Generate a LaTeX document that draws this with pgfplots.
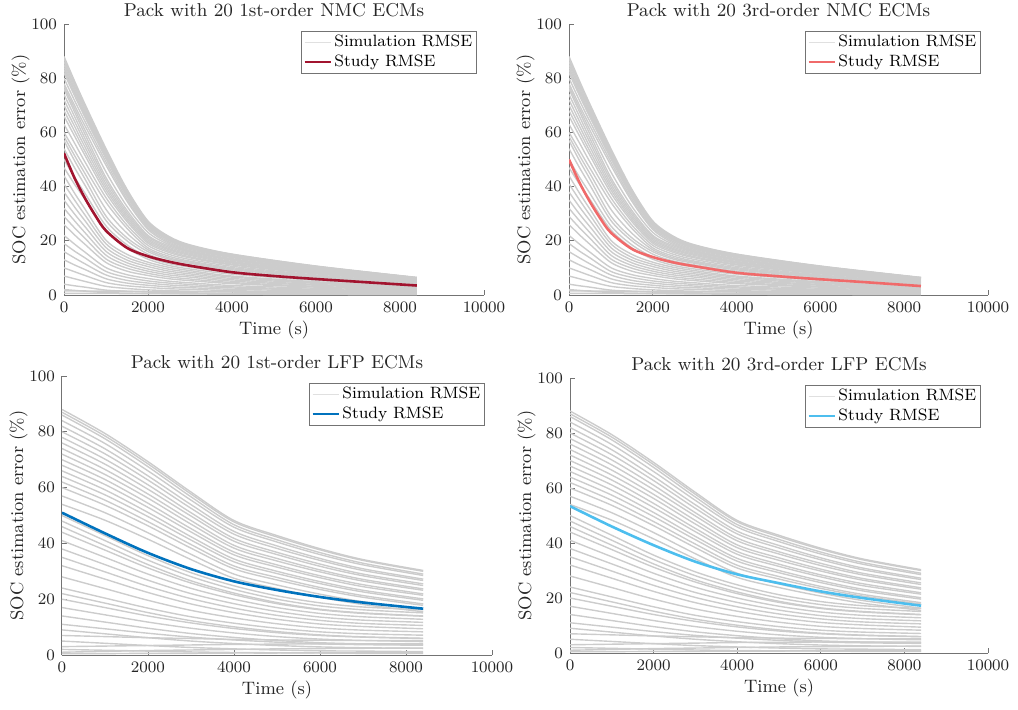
\documentclass[border=0pt]{standalone}
\usepackage{pgfplots}
\usepackage{pgfplotstable}
\pgfplotsset{compat=1.18}

\definecolor{simgray}{gray}{0.8}
\definecolor{axgray}{gray}{0.45}
\definecolor{nmcone}{HTML}{A2142F}
\definecolor{nmcthree}{HTML}{F06A6A}
\definecolor{lfpone}{HTML}{0072BD}
\definecolor{lfpthree}{HTML}{4DBEEE}

% gray simulation runs, one row per run (columns = time in s)
\pgfplotstableread{
c 0 250 500 1000 1500 2000 2500 3000 4000 6000 8400
a1 88 79.0 70.4 54.0 39.0 27.3 21.6 18.5 15.1 10.7 6.5
a2 87 78.1 69.6 53.4 38.5 27.0 21.3 18.3 15.0 10.6 6.4
a3 86 77.2 68.8 52.8 38.1 26.7 21.1 18.1 14.8 10.5 6.4
a4 85 76.3 68.0 52.2 37.7 26.4 20.8 17.9 14.6 10.4 6.3
a5 84 75.4 67.2 51.6 37.2 26.0 20.6 17.6 14.4 10.2 6.2
a6 83 74.5 66.4 51.0 36.8 25.7 20.3 17.4 14.3 10.1 6.1
a7 82 73.6 65.6 50.3 36.3 25.4 20.1 17.2 14.1 10.0 6.1
a8 80 71.8 64.0 49.1 35.4 24.8 19.6 16.8 13.8 9.8 5.9
a9 78 70.0 62.4 47.9 34.6 24.2 19.1 16.4 13.4 9.5 5.8
a10 76 67.6 59.3 43.3 31.2 22.0 18.1 15.8 12.8 9.0 5.5
a11 74 65.9 57.7 42.2 30.3 21.5 17.6 15.4 12.4 8.7 5.3
a12 72 64.1 56.2 41.0 29.5 20.9 17.1 15.0 12.1 8.5 5.2
a13 70 62.3 54.6 39.9 28.7 20.3 16.7 14.6 11.8 8.3 5.0
a14 68 60.5 53.0 38.8 27.9 19.7 16.2 14.1 11.4 8.0 4.9
a15 66 58.7 51.5 37.6 27.1 19.1 15.7 13.7 11.1 7.8 4.8
a16 63 56.1 49.1 35.9 25.8 18.3 15.0 13.1 10.6 7.4 4.5
a17 60 53.4 46.8 34.2 24.6 17.4 14.3 12.5 10.1 7.1 4.3
a18 57 49.6 42.8 29.1 21.1 16.0 13.2 11.7 9.3 6.6 4.0
a19 54 47.0 40.5 27.5 20.0 15.1 12.5 11.1 8.8 6.2 3.8
a20 50 43.5 37.5 25.5 18.5 14.0 11.6 10.3 8.2 5.8 3.5
a21 47 40.9 35.3 24.0 17.4 13.2 10.9 9.6 7.7 5.4 3.3
a22 44 37.6 31.7 20.2 15.0 12.1 10.2 9.0 7.0 4.9 3.0
a23 41 35.1 29.5 18.9 13.9 11.3 9.5 8.4 6.6 4.6 2.8
a24 38 32.5 27.4 17.5 12.9 10.5 8.8 7.8 6.1 4.3 2.6
a25 35 29.9 25.2 16.1 11.9 9.6 8.1 7.2 5.6 3.9 2.4
a26 32 27.4 23.0 14.7 10.9 8.8 7.4 6.6 5.1 3.6 2.2
a27 29 24.8 20.9 13.3 9.9 8.0 6.7 5.9 4.6 3.2 2.0
a28 26 22.2 18.7 12.0 8.8 7.2 6.0 5.3 4.2 2.9 1.8
a29 22 18.8 15.8 10.1 7.5 6.1 5.1 4.5 3.5 2.5 1.5
a30 19 16.2 13.7 8.7 6.5 5.2 4.4 3.9 3.0 2.1 1.3
a31 16 13.7 11.5 7.4 5.4 4.4 3.7 3.3 2.6 1.8 1.1
a32 13 11.1 9.4 6.0 4.4 3.6 3.0 2.7 2.1 1.5 0.9
a33 10 8.6 7.2 4.6 3.4 2.8 2.3 2.1 1.6 1.1 0.7
a34 7 6.0 5.0 3.2 2.4 1.9 1.6 1.4 1.1 0.8 0.5
a35 4 3.4 2.9 1.8 1.4 1.1 0.9 0.8 0.6 0.4 0.3
a36 2 1.7 1.4 0.9 0.7 0.6 0.5 0.4 0.3 0.2 0.1
a37 1.5 1.5 1.5 1.4 1.4 1.3 1.3 1.3 1.2 1.2 1.1
a38 0.6 0.6 0.6 0.6 0.5 0.5 0.5 0.5 0.5 0.5 0.5
a39 77 68.8 60.8 45.4 32.7 23.1 18.6 16.1 13.1 9.3 5.7
a40 58.5 51.5 44.8 31.6 22.8 16.7 13.7 12.1 9.7 6.8 4.2
}\nmcraw
\pgfplotstabletranspose[colnames from=c, input colnames to=t]{\nmcgray}{\nmcraw}

\pgfplotstableread{
c 0 1000 2000 3000 4000 5000 6000 7000 8400
b1 88 79.4 69.3 58.4 48.2 42.8 38.1 34.2 30.3
b2 87 78.5 68.5 57.7 47.7 42.3 37.7 33.9 30.0
b3 86 77.5 67.5 56.7 46.7 41.3 36.7 32.9 29.0
b4 84 75.8 66.0 55.5 45.8 40.5 36.0 32.3 28.5
b5 82 73.9 64.2 53.9 44.3 39.1 34.6 30.9 27.2
b6 80 72.1 62.7 52.6 43.3 38.2 33.9 30.3 26.7
b7 78 70.2 61.0 51.0 41.8 36.8 32.6 29.0 25.5
b8 76 68.4 59.4 49.8 40.8 36.0 31.8 28.4 24.9
b9 74 66.5 57.7 48.2 39.3 34.6 30.5 27.1 23.7
b10 72 64.7 56.2 46.9 38.3 33.7 29.8 26.5 23.2
b11 70 62.9 54.4 45.3 36.9 32.3 28.4 25.2 21.9
b12 68 61.1 52.9 44.1 35.9 31.5 27.7 24.5 21.4
b13 66 59.2 51.1 42.4 34.4 30.0 26.3 23.2 20.1
b14 64 57.4 49.6 41.2 33.4 29.2 25.6 22.6 19.6
b15 62 55.5 47.8 39.6 31.9 27.8 24.2 21.3 18.3
b16 60 53.7 46.3 38.3 30.9 26.9 23.5 20.7 17.8
b17 57 51.0 43.8 36.1 29.0 25.1 21.8 19.1 16.3
b18 54 48.3 41.5 34.2 27.5 23.8 20.7 18.1 15.5
b19 50 42.8 35.6 29.5 24.8 21.2 18.7 17.2 16.2
b20 48 41.0 34.0 28.1 23.5 20.0 17.6 16.2 15.1
b21 46 39.2 32.4 26.6 22.2 18.8 16.4 15.1 14.0
b22 44 37.6 31.2 25.8 21.6 18.4 16.2 14.9 13.9
b23 41 35.0 29.0 23.9 20.0 17.0 14.9 13.7 12.8
b24 38 32.4 26.8 22.0 18.4 15.6 13.6 12.5 11.7
b25 35 29.8 24.6 20.2 16.8 14.2 12.4 11.3 10.6
b26 32 27.2 22.4 18.3 15.2 12.8 11.1 10.2 9.4
b27 28 23.8 19.6 16.0 13.3 11.2 9.7 8.9 8.3
b28 24 20.4 16.8 13.7 11.4 9.6 8.3 7.6 7.1
b29 22 18.6 15.2 12.3 10.1 8.4 7.2 6.5 6.0
b30 20 17.0 14.0 11.5 9.5 8.0 7.0 6.4 5.9
b31 17 14.4 11.8 9.6 7.9 6.6 5.7 5.2 4.8
b32 14 11.8 9.6 7.7 6.3 5.2 4.4 4.0 3.7
b33 11 9.4 7.8 6.4 5.4 4.6 4.0 3.7 3.5
b34 9 7.6 6.2 5.0 4.1 3.4 2.9 2.6 2.4
b35 7 6.6 6.2 5.9 5.6 5.4 5.3 5.2 5.2
b36 5 4.2 3.4 2.7 2.2 1.8 1.5 1.4 1.2
b37 3 3.2 3.4 3.6 3.8 3.9 4.0 4.0 4.0
b38 2 1.7 1.4 1.1 0.9 0.8 0.7 0.6 0.6
b39 1 1.3 1.6 1.8 2.0 2.2 2.3 2.4 2.5
b40 0.5 0.5 0.6 0.6 0.7 0.7 0.8 0.8 0.8
}\lfpraw
\pgfplotstabletranspose[colnames from=c, input colnames to=t]{\lfpgray}{\lfpraw}

\pgfplotsset{
  panel/.style={
    scale only axis,
    xmin=0, xmax=10000, ymin=0, ymax=100,
    axis x line*=bottom, axis y line*=left,
    axis line style={axgray, line width=0.5pt},
    tick style={axgray, line width=0.5pt},
    tick align=inside, major tick length=2.5pt,
    xtick={0,2000,4000,6000,8000,10000},
    ytick={0,20,40,60,80,100},
    scaled x ticks=false,
    /pgf/number format/1000 sep={},
    ticklabel style={font=\fontsize{8.5}{10}\selectfont, text=black!85},
    label style={font=\fontsize{9}{11}\selectfont, text=black!85},
    xlabel style={yshift=2.5pt},
    ylabel style={yshift=-6pt},
    title style={font=\fontsize{9.3}{11}\selectfont, text=black!85, yshift=-6pt},
    xlabel={Time (s)},
    ylabel={SOC estimation error (\%)},
    legend style={at={(1,1)}, anchor=north east, xshift=-3.5pt, yshift=-3.5pt,
      draw=axgray, font=\fontsize{8.2}{9.5}\selectfont,
      inner xsep=1pt, inner ysep=0.8pt, nodes={inner sep=1.2pt}},
    legend cell align=left,
    legend image code/.code={\draw[##1] (0pt,0pt) -- (13pt,0pt);},
  },
  sim/.style={simgray, line width=0.7pt, smooth, forget plot},
  study/.style={line width=1.3pt, smooth, forget plot},
}

\begin{document}
\begin{tikzpicture}
\useasboundingbox (0,0) rectangle (509pt,354.5pt);

\begin{axis}[panel, at={(32pt,207pt)}, anchor=south west,
  width=210pt, height=135.5pt, title={Pack with 20 1st-order NMC ECMs}]
\addlegendimage{black!12, line width=0.5pt}\addlegendentry{Simulation RMSE}
\addlegendimage{nmcone, line width=1.3pt}\addlegendentry{Study RMSE}
\pgfplotsinvokeforeach{1,...,40}{\addplot[sim] table[x=t, y=a#1]{\nmcgray};}
\addplot[study, nmcone] coordinates {(0,52.3) (250,43.2) (500,35.7) (750,29.2)
  (1000,23.7) (1500,17.4) (2000,14.3) (2500,12.3) (3000,10.8) (4000,8.4)
  (5000,7.0) (6000,5.9) (7000,4.9) (8400,3.5)};
\end{axis}

\begin{axis}[panel, at={(284.5pt,207pt)}, anchor=south west,
  width=209.5pt, height=135.5pt, title={Pack with 20 3rd-order NMC ECMs}]
\addlegendimage{black!12, line width=0.5pt}\addlegendentry{Simulation RMSE}
\addlegendimage{nmcthree, line width=1.3pt}\addlegendentry{Study RMSE}
\pgfplotsinvokeforeach{1,...,40}{\addplot[sim] table[x=t, y=a#1]{\nmcgray};}
\addplot[study, nmcthree] coordinates {(0,50) (250,41.5) (500,34.4) (750,28.2)
  (1000,23) (1500,17) (2000,14) (2500,12) (3000,10.6) (4000,8.2)
  (5000,6.9) (6000,5.8) (7000,4.8) (8400,3.3)};
\end{axis}

\begin{axis}[panel, at={(31pt,27pt)}, anchor=south west,
  width=215pt, height=139.5pt, title={Pack with 20 1st-order LFP ECMs}]
\addlegendimage{black!12, line width=0.5pt}\addlegendentry{Simulation RMSE}
\addlegendimage{lfpone, line width=1.3pt}\addlegendentry{Study RMSE}
\pgfplotsinvokeforeach{1,...,40}{\addplot[sim] table[x=t, y=b#1]{\lfpgray};}
\addplot[study, lfpone] coordinates {(0,51) (1000,43.6) (2000,36.6) (3000,30.8)
  (4000,26.4) (5000,23.3) (6000,20.8) (7000,18.8) (8400,16.6)};
\end{axis}

\begin{axis}[panel, at={(285pt,28pt)}, anchor=south west,
  width=209pt, height=137.5pt, title={Pack with 20 3rd-order LFP ECMs}]
\addlegendimage{black!12, line width=0.5pt}\addlegendentry{Simulation RMSE}
\addlegendimage{lfpthree, line width=1.3pt}\addlegendentry{Study RMSE}
\pgfplotsinvokeforeach{1,...,40}{\addplot[sim] table[x=t, y=b#1]{\lfpgray};}
\addplot[study, lfpthree] coordinates {(0,53.4) (1000,46) (2000,39.2) (3000,33.2)
  (4000,28.6) (5000,25.4) (6000,22.4) (7000,20) (8400,17.2)};
\end{axis}
\end{tikzpicture}
\end{document}
